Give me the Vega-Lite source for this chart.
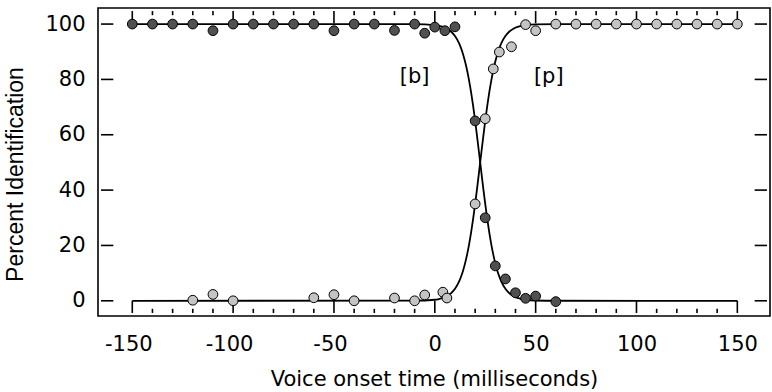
{
  "$schema": "https://vega.github.io/schema/vega-lite/v6.json",
  "width": 672,
  "height": 308,
  "autosize": {"type": "none"},
  "padding": {"left": 98, "top": 8, "right": 2, "bottom": 76},
  "background": "white",
  "config": {
    "view": {"stroke": "black", "strokeWidth": 1.6},
    "axis": {"grid": false, "domain": false, "ticks": false, "labelColor": "black", "titleColor": "black", "titleFontWeight": "normal", "labelFont": "DejaVu Sans", "labelFontSize": 21, "titleFont": "DejaVu Sans", "titleFontSize": 21}
  },
  "datasets": {
    "curves": [
      {"x": -150, "y": 100, "s": "b"}, {"x": -10, "y": 99.97, "s": "b"}, {"x": 0, "y": 99.62, "s": "b"}, {"x": 2, "y": 99.38, "s": "b"}, {"x": 4, "y": 98.98, "s": "b"}, {"x": 6, "y": 98.34, "s": "b"}, {"x": 8, "y": 97.31, "s": "b"}, {"x": 10, "y": 95.66, "s": "b"}, {"x": 12, "y": 93.08, "s": "b"}, {"x": 13, "y": 91.3, "s": "b"}, {"x": 14, "y": 89.13, "s": "b"}, {"x": 15, "y": 86.48, "s": "b"}, {"x": 16, "y": 83.33, "s": "b"}, {"x": 17, "y": 79.59, "s": "b"}, {"x": 18, "y": 75.29, "s": "b"}, {"x": 19, "y": 70.4, "s": "b"}, {"x": 20, "y": 65.0, "s": "b"}, {"x": 21, "y": 59.17, "s": "b"}, {"x": 22, "y": 53.09, "s": "b"}, {"x": 23, "y": 46.91, "s": "b"}, {"x": 24, "y": 40.83, "s": "b"}, {"x": 25, "y": 35.0, "s": "b"}, {"x": 26, "y": 29.6, "s": "b"}, {"x": 27, "y": 24.71, "s": "b"}, {"x": 28, "y": 20.41, "s": "b"}, {"x": 29, "y": 16.67, "s": "b"}, {"x": 30, "y": 13.51, "s": "b"}, {"x": 31, "y": 10.87, "s": "b"}, {"x": 32, "y": 8.7, "s": "b"}, {"x": 33, "y": 6.92, "s": "b"}, {"x": 35, "y": 4.34, "s": "b"}, {"x": 37, "y": 2.69, "s": "b"}, {"x": 39, "y": 1.66, "s": "b"}, {"x": 41, "y": 1.02, "s": "b"}, {"x": 43, "y": 0.62, "s": "b"}, {"x": 45, "y": 0.38, "s": "b"}, {"x": 50, "y": 0.11, "s": "b"}, {"x": 60, "y": 0.01, "s": "b"}, {"x": 150, "y": 0, "s": "b"},
      {"x": -150, "y": 0, "s": "p"}, {"x": -10, "y": 0.03, "s": "p"}, {"x": 0, "y": 0.38, "s": "p"}, {"x": 2, "y": 0.62, "s": "p"}, {"x": 4, "y": 1.02, "s": "p"}, {"x": 6, "y": 1.66, "s": "p"}, {"x": 8, "y": 2.69, "s": "p"}, {"x": 10, "y": 4.34, "s": "p"}, {"x": 12, "y": 6.92, "s": "p"}, {"x": 13, "y": 8.7, "s": "p"}, {"x": 14, "y": 10.87, "s": "p"}, {"x": 15, "y": 13.52, "s": "p"}, {"x": 16, "y": 16.67, "s": "p"}, {"x": 17, "y": 20.41, "s": "p"}, {"x": 18, "y": 24.71, "s": "p"}, {"x": 19, "y": 29.6, "s": "p"}, {"x": 20, "y": 35.0, "s": "p"}, {"x": 21, "y": 40.83, "s": "p"}, {"x": 22, "y": 46.91, "s": "p"}, {"x": 23, "y": 53.09, "s": "p"}, {"x": 24, "y": 59.17, "s": "p"}, {"x": 25, "y": 65.0, "s": "p"}, {"x": 26, "y": 70.4, "s": "p"}, {"x": 27, "y": 75.29, "s": "p"}, {"x": 28, "y": 79.59, "s": "p"}, {"x": 29, "y": 83.33, "s": "p"}, {"x": 30, "y": 86.49, "s": "p"}, {"x": 31, "y": 89.13, "s": "p"}, {"x": 32, "y": 91.3, "s": "p"}, {"x": 33, "y": 93.08, "s": "p"}, {"x": 35, "y": 95.66, "s": "p"}, {"x": 37, "y": 97.31, "s": "p"}, {"x": 39, "y": 98.34, "s": "p"}, {"x": 41, "y": 98.98, "s": "p"}, {"x": 43, "y": 99.38, "s": "p"}, {"x": 45, "y": 99.62, "s": "p"}, {"x": 50, "y": 99.89, "s": "p"}, {"x": 60, "y": 99.99, "s": "p"}, {"x": 150, "y": 100, "s": "p"}
    ],
    "points": [
      {"x": -150, "y": 100, "s": "b"}, {"x": -140, "y": 100, "s": "b"}, {"x": -130, "y": 100, "s": "b"}, {"x": -120, "y": 100, "s": "b"}, {"x": -110, "y": 97.6, "s": "b"}, {"x": -100, "y": 100, "s": "b"}, {"x": -90, "y": 100, "s": "b"}, {"x": -80, "y": 100, "s": "b"}, {"x": -70, "y": 100, "s": "b"}, {"x": -60, "y": 100, "s": "b"}, {"x": -50, "y": 97.6, "s": "b"}, {"x": -40, "y": 100, "s": "b"}, {"x": -30, "y": 100, "s": "b"}, {"x": -20, "y": 97.7, "s": "b"}, {"x": -10, "y": 100, "s": "b"}, {"x": -5, "y": 96.7, "s": "b"}, {"x": 0, "y": 98.9, "s": "b"}, {"x": 5, "y": 97.6, "s": "b"}, {"x": 10, "y": 99, "s": "b"}, {"x": 20, "y": 65, "s": "b"}, {"x": 25, "y": 30, "s": "b"}, {"x": 30, "y": 12.6, "s": "b"}, {"x": 35, "y": 7.9, "s": "b"}, {"x": 40, "y": 2.9, "s": "b"}, {"x": 45, "y": 0.9, "s": "b"}, {"x": 50, "y": 1.7, "s": "b"}, {"x": 60, "y": -0.3, "s": "b"},
      {"x": -120, "y": 0.2, "s": "p"}, {"x": -110, "y": 2.3, "s": "p"}, {"x": -100, "y": 0, "s": "p"}, {"x": -60, "y": 1.1, "s": "p"}, {"x": -50, "y": 2.2, "s": "p"}, {"x": -40, "y": 0, "s": "p"}, {"x": -20, "y": 1, "s": "p"}, {"x": -10, "y": 0, "s": "p"}, {"x": -5, "y": 2.1, "s": "p"}, {"x": 4, "y": 3.1, "s": "p"}, {"x": 6, "y": 1, "s": "p"}, {"x": 20, "y": 35, "s": "p"}, {"x": 25, "y": 65.8, "s": "p"}, {"x": 29, "y": 83.8, "s": "p"}, {"x": 32, "y": 89.9, "s": "p"}, {"x": 38, "y": 91.8, "s": "p"}, {"x": 45, "y": 99.8, "s": "p"}, {"x": 50, "y": 97.6, "s": "p"}, {"x": 60, "y": 100, "s": "p"}, {"x": 70, "y": 100, "s": "p"}, {"x": 80, "y": 100, "s": "p"}, {"x": 90, "y": 100, "s": "p"}, {"x": 100, "y": 100, "s": "p"}, {"x": 110, "y": 100, "s": "p"}, {"x": 120, "y": 100, "s": "p"}, {"x": 130, "y": 100, "s": "p"}, {"x": 140, "y": 100, "s": "p"}, {"x": 150, "y": 100, "s": "p"}
    ],
    "labels": [
      {"x": -10, "y": 81, "text": "[b]"},
      {"x": 56.5, "y": 81, "text": "[p]"}
    ],
    "xticks": [
      {"v": -150, "major": true}, {"v": -140, "major": false}, {"v": -130, "major": false}, {"v": -120, "major": false}, {"v": -110, "major": false},
      {"v": -100, "major": true}, {"v": -90, "major": false}, {"v": -80, "major": false}, {"v": -70, "major": false}, {"v": -60, "major": false},
      {"v": -50, "major": true}, {"v": -40, "major": false}, {"v": -30, "major": false}, {"v": -20, "major": false}, {"v": -10, "major": false},
      {"v": 0, "major": true}, {"v": 10, "major": false}, {"v": 20, "major": false}, {"v": 30, "major": false}, {"v": 40, "major": false},
      {"v": 50, "major": true}, {"v": 60, "major": false}, {"v": 70, "major": false}, {"v": 80, "major": false}, {"v": 90, "major": false},
      {"v": 100, "major": true}, {"v": 110, "major": false}, {"v": 120, "major": false}, {"v": 130, "major": false}, {"v": 140, "major": false},
      {"v": 150, "major": true}
    ],
    "yticks": [{"v": 0}, {"v": 20}, {"v": 40}, {"v": 60}, {"v": 80}, {"v": 100}]
  },
  "resolve": {"axis": {"x": "independent", "y": "independent"}},
  "layer": [
    {
      "data": {"name": "xticks"},
      "transform": [{"filter": "datum.major"}],
      "mark": {"type": "bar", "width": 1.6, "color": "black", "opacity": 1},
      "encoding": {
        "x": {"field": "v", "type": "quantitative", "scale": {"domain": [-164.52, 163.72], "nice": false, "zero": false},
          "axis": {"orient": "bottom", "values": [-150, -100, -50, 0, 50, 100, 150],
            "labelExpr": "toString(datum.value)",
            "labelOffset": {"condition": {"test": "datum.value < 0", "value": -4}, "value": 0},
            "labelPadding": 17, "labelOverlap": false, "labelFlush": false,
            "title": "Voice onset time (milliseconds)", "titlePadding": 14}},
        "y": {"datum": -4.4, "type": "quantitative", "scale": {"domain": [-3.69, 104.0], "nice": false, "zero": false},
          "axis": {"orient": "left", "values": [0, 20, 40, 60, 80, 100], "labelPadding": 13,
            "title": "Percent Identification", "titleFont": "Liberation Sans", "titleFontSize": 23, "titlePadding": 17, "titleY": 166}},
        "y2": {"datum": 0}
      }
    },
    {
      "data": {"name": "xticks"},
      "transform": [{"filter": "datum.major"}],
      "mark": {"type": "bar", "width": 1.6, "color": "black", "opacity": 1},
      "encoding": {
        "x": {"field": "v", "type": "quantitative", "axis": null},
        "y": {"datum": 104.7, "type": "quantitative", "axis": null},
        "y2": {"datum": 100.3}
      }
    },
    {
      "data": {"name": "xticks"},
      "transform": [{"filter": "!datum.major"}],
      "mark": {"type": "bar", "width": 1.6, "color": "black", "opacity": 1},
      "encoding": {
        "x": {"field": "v", "type": "quantitative", "axis": null},
        "y": {"datum": -4.4, "type": "quantitative", "axis": null},
        "y2": {"datum": -2.9}
      }
    },
    {
      "data": {"name": "xticks"},
      "transform": [{"filter": "!datum.major"}],
      "mark": {"type": "bar", "width": 1.6, "color": "black", "opacity": 1},
      "encoding": {
        "x": {"field": "v", "type": "quantitative", "axis": null},
        "y": {"datum": 104.7, "type": "quantitative", "axis": null},
        "y2": {"datum": 103.2}
      }
    },
    {
      "data": {"name": "yticks"},
      "mark": {"type": "bar", "height": 1.6, "color": "black", "opacity": 1, "orient": "horizontal"},
      "encoding": {
        "y": {"field": "v", "type": "quantitative", "axis": null},
        "x": {"datum": -165.5, "type": "quantitative", "axis": null},
        "x2": {"datum": -159.4}
      }
    },
    {
      "data": {"name": "yticks"},
      "mark": {"type": "bar", "height": 1.6, "color": "black", "opacity": 1, "orient": "horizontal"},
      "encoding": {
        "y": {"field": "v", "type": "quantitative", "axis": null},
        "x": {"datum": 164.7, "type": "quantitative", "axis": null},
        "x2": {"datum": 158.6}
      }
    },
    {
      "data": {"name": "curves"},
      "mark": {"type": "line", "stroke": "black", "strokeWidth": 1.8, "interpolate": "monotone"},
      "encoding": {
        "x": {"field": "x", "type": "quantitative", "axis": null},
        "y": {"field": "y", "type": "quantitative", "axis": null},
        "detail": {"field": "s", "type": "nominal"}
      }
    },
    {
      "data": {"name": "points"},
      "transform": [{"filter": "datum.s === 'p'"}],
      "mark": {"type": "point", "filled": true, "shape": "circle", "stroke": "black", "strokeWidth": 1, "size": 95, "opacity": 1, "fill": "#c4c4c4"},
      "encoding": {
        "x": {"field": "x", "type": "quantitative", "axis": null},
        "y": {"field": "y", "type": "quantitative", "axis": null}
      }
    },
    {
      "data": {"name": "points"},
      "transform": [{"filter": "datum.s === 'b'"}],
      "mark": {"type": "point", "filled": true, "shape": "circle", "stroke": "black", "strokeWidth": 1, "size": 95, "opacity": 1, "fill": "#505050"},
      "encoding": {
        "x": {"field": "x", "type": "quantitative", "axis": null},
        "y": {"field": "y", "type": "quantitative", "axis": null}
      }
    },
    {
      "data": {"name": "labels"},
      "mark": {"type": "text", "font": "DejaVu Sans", "fontSize": 21, "color": "black", "baseline": "middle", "align": "center"},
      "encoding": {
        "x": {"field": "x", "type": "quantitative", "axis": null},
        "y": {"field": "y", "type": "quantitative", "axis": null},
        "text": {"field": "text"}
      }
    }
  ]
}
